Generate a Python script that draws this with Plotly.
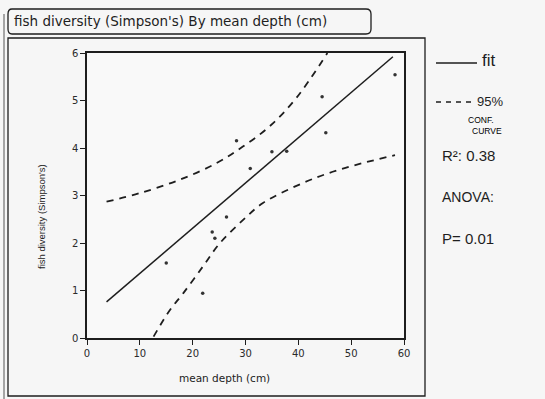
import plotly.graph_objects as go

# ---- data ----
depth = [15.0, 21.9, 23.7, 24.2, 26.4, 28.3, 30.9, 35.0, 37.8, 44.5, 45.2, 58.3]
diversity = [1.58, 0.94, 2.23, 2.10, 2.55, 4.15, 3.57, 3.92, 3.93, 5.08, 4.32, 5.54]

fit_x = [3.7, 57.9]
fit_y = [0.76, 5.92]

upper_x = [3.7, 10.0, 17.5, 24.5, 29.5, 34.5, 39.6, 45.5]
upper_y = [2.87, 3.05, 3.33, 3.68, 4.03, 4.45, 5.05, 6.0]

lower_x = [12.6, 15.7, 18.2, 21.9, 25.1, 29.5, 33.3, 40.8, 46.5, 52.1, 58.3]
lower_y = [0.03, 0.59, 0.94, 1.50, 1.99, 2.48, 2.84, 3.26, 3.50, 3.68, 3.85]

x_ticks = [0, 10, 20, 30, 40, 50, 60]
y_ticks = [0, 1, 2, 3, 4, 5, 6]

title_text = "fish diversity (Simpson's) By mean depth (cm)"
x_title = "mean depth (cm)"
y_title = "fish diversity (Simpson's)"

# ---- layout geometry (pixels) ----
W, H = 545, 399
L, R, T, B = 87, 404, 53, 338


def px(x):
    return (x - L) / (R - L)


def py(y):
    return (B - y) / (B - T)


INK = "#1e1e1e"

fig = go.Figure()
fig.add_trace(go.Scatter(x=upper_x, y=upper_y, mode="lines", line_shape="spline",
                         line=dict(color=INK, width=1.8, dash="7px,6px"), hoverinfo="skip"))
fig.add_trace(go.Scatter(x=lower_x, y=lower_y, mode="lines", line_shape="spline",
                         line=dict(color=INK, width=1.8, dash="7px,6px"), hoverinfo="skip"))
fig.add_trace(go.Scatter(x=fit_x, y=fit_y, mode="lines",
                         line=dict(color=INK, width=1.5)))
fig.add_trace(go.Scatter(x=depth, y=diversity, mode="markers",
                         marker=dict(color="#333333", size=3.5)))

axis_common = dict(showgrid=False, zeroline=False, showline=True, linecolor=INK,
                   linewidth=1.5, mirror=True, ticks="outside", ticklen=5,
                   tickwidth=1.2, tickcolor=INK,
                   tickfont=dict(family="DejaVu Sans", size=10, color="#2a2a2a"))

fig.update_layout(
    width=W, height=H,
    margin=dict(l=L, r=W - R, t=T, b=H - B, pad=0),
    paper_bgcolor="#f6f6f6", plot_bgcolor="#f9f9f9",
    showlegend=False,
    xaxis=dict(range=[0, 60], tickvals=x_ticks, **axis_common),
    yaxis=dict(range=[0, 6], tickvals=y_ticks, **axis_common),
)

shapes = []
# title box with rounded corners
shapes.append(dict(type="path", xref="paper", yref="paper",
                   path=f"M {px(12)},{py(9)} L {px(366)},{py(9)} Q {px(371)},{py(9)} {px(371)},{py(14)} "
                        f"L {px(371)},{py(29)} Q {px(371)},{py(34)} {px(366)},{py(34)} "
                        f"L {px(12)},{py(34)} Q {px(8)},{py(34)} {px(8)},{py(29)} "
                        f"L {px(8)},{py(14)} Q {px(8)},{py(9)} {px(12)},{py(9)} Z",
                   line=dict(color=INK, width=1.3)))
# panel box
shapes.append(dict(type="rect", xref="paper", yref="paper",
                   x0=px(8), x1=px(425), y0=py(396), y1=py(38),
                   line=dict(color=INK, width=1.3)))
# left outer double line
shapes.append(dict(type="line", xref="paper", yref="paper",
                   x0=px(4), x1=px(4), y0=py(14), y1=py(399),
                   line=dict(color="#555555", width=1)))
# legend sample lines
shapes.append(dict(type="line", xref="paper", yref="paper",
                   x0=px(436), x1=px(477), y0=py(63), y1=py(63),
                   line=dict(color=INK, width=1.5)))
shapes.append(dict(type="line", xref="paper", yref="paper",
                   x0=px(436), x1=px(472), y0=py(102), y1=py(102),
                   line=dict(color=INK, width=1.5, dash="5px,5px")))

HAND = "Liberation Sans"
ann = []


def add_text(text, x, y, size, xanchor="left", angle=0, family=HAND, color=INK):
    ann.append(dict(text=text, xref="paper", yref="paper", x=px(x), y=py(y),
                    xanchor=xanchor, yanchor="middle", showarrow=False,
                    textangle=angle, font=dict(family=family, size=size, color=color)))


add_text(title_text, 12, 21, 13.5, family="DejaVu Sans")
add_text(x_title, 224, 378, 10.5, xanchor="center", family="DejaVu Sans", color="#222222")
add_text(y_title, 41, 216, 9.5, xanchor="center", angle=-90, color="#222222")

add_text("fit", 480, 61, 17)
add_text("95%", 475, 101, 13)
add_text("CONF.", 466, 120, 8.5, color="#000000")
add_text("CURVE", 470, 131, 8.5, color="#000000")
add_text("R²: 0.38", 440, 155, 15)
add_text("ANOVA:", 440, 197, 14)
add_text("P= 0.01", 440, 238, 15)

fig.update_layout(shapes=shapes, annotations=ann)
fig.write_html("out.html", post_script="document.body.style.margin='0';",
               config={"displayModeBar": False})
